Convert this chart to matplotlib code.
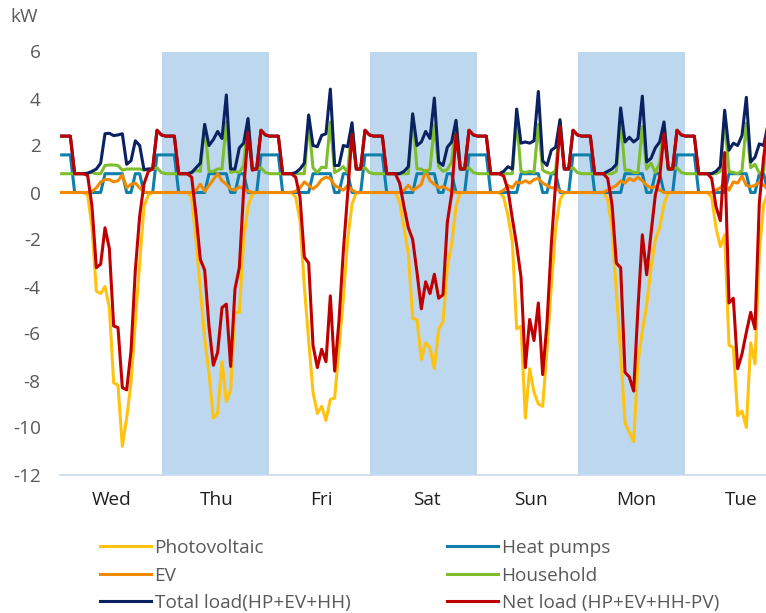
import matplotlib
matplotlib.use("Agg")
import matplotlib.pyplot as plt
from matplotlib.lines import Line2D
import numpy as np

plt.rcParams['font.family'] = ['Open Sans', 'DejaVu Sans']
plt.rcParams['axes.unicode_minus'] = False

days = ["Wed", "Thu", "Fri", "Sat", "Sun", "Mon", "Tue"]
shaded_days = ["Thu", "Sat", "Mon"]
yticks = [-12, -10, -8, -6, -4, -2, 0, 2, 4, 6]

# hourly values, kW (one row of 24 per day)
photovoltaic = [
    0, 0, 0, 0, 0, 0, -0.1, -1.5, -4.2, -4.3, -4.0, -4.9, -8.1, -8.2, -10.8, -9.6, -8.1, -5.5, -3.0, -0.6, -0.1, 0, 0, 0,
    0, 0, 0, 0, 0, 0, -0.2, -2.0, -4.1, -6.2, -7.7, -9.6, -9.4, -7.2, -8.9, -8.4, -5.1, -5.1, -2.0, -0.6, -0.05, 0, 0, 0,
    0, 0, 0, 0, 0, 0, -0.2, -1.2, -4.0, -6.3, -8.5, -9.4, -9.1, -9.7, -8.8, -8.75, -6.6, -4.5, -2.0, -0.5, 0, 0, 0, 0,
    0, 0, 0, 0, 0, 0, -0.4, -1.5, -2.6, -5.35, -5.4, -7.1, -6.4, -6.6, -7.5, -5.8, -5.5, -3.2, -2.2, -0.6, 0, 0, 0, 0,
    0, 0, 0, 0, 0, 0, -0.2, -1.0, -2.1, -5.8, -5.7, -9.6, -7.5, -8.5, -9.0, -9.1, -6.7, -4.0, -1.5, -0.3, 0, 0, 0, 0,
    0, 0, 0, 0, 0, 0, -0.3, -1.5, -4.2, -6.8, -9.8, -10.2, -10.6, -7.2, -5.9, -4.8, -3.2, -2.0, -1.5, -0.5, 0, 0, 0, 0,
    0, 0, 0, 0, 0, 0, -0.2, -1.5, -2.3, -1.8, -6.5, -6.6, -9.5, -9.3, -10.0, -6.4, -7.3, -2.5, -0.5, 0, 0, 0, 0, 0,
]

heat_pumps = [
    1.6, 1.6, 1.6, 0, 0, 0, 0, 0, 0, 0, 0.8, 0.8, 0.8, 0.8, 0.8, 0, 0, 0.8, 0.8, 0, 0, 0, 1.6, 1.6,
    1.6, 1.6, 1.6, 0, 0, 0, 0, 0, 0, 0, 0.8, 0.8, 0.8, 0.8, 0.8, 0, 0, 0.8, 0.8, 0, 0, 0, 1.6, 1.6,
    1.6, 1.6, 1.6, 0, 0, 0, 0, 0, 0, 0, 0.8, 0.8, 0.8, 0.8, 0.8, 0, 0, 0.8, 0.8, 0, 0, 0, 1.6, 1.6,
    1.6, 1.6, 1.6, 0, 0, 0, 0, 0, 0, 0, 0.8, 0.8, 0.8, 0.8, 0.8, 0, 0, 0.8, 0.8, 0, 0, 0, 1.6, 1.6,
    1.6, 1.6, 1.6, 0, 0, 0, 0, 0, 0, 0, 0.8, 0.8, 0.8, 0.8, 0.8, 0, 0, 0.8, 0.8, 0, 0, 0, 1.6, 1.6,
    1.6, 1.6, 1.6, 0, 0, 0, 0, 0, 0, 0, 0.8, 0.8, 0.8, 0.8, 0.8, 0, 0, 0.8, 0.8, 0, 0, 0, 1.6, 1.6,
    1.6, 1.6, 1.6, 0, 0, 0, 0, 0, 0, 0, 0.8, 0.8, 0.8, 0.8, 0.8, 0, 0, 0.8, 0.8, 0, 0, 0, 1.6, 1.6,
]

ev = [
    0, 0, 0, 0, 0, 0, 0, 0.05, 0.2, 0.45, 0.55, 0.55, 0.45, 0.5, 0.75, 0.2, 0.35, 0.4, 0.2, 0.02, 0, 0, 0, 0,
    0, 0, 0, 0, 0, 0, 0, 0.1, 0.35, 0.05, 0.3, 0.55, 0.8, 0.5, 0.35, 0.15, 0.1, 0.25, 0.15, 0.05, 0, 0, 0, 0,
    0, 0, 0, 0, 0, 0, 0.05, 0.2, 0.45, 0.3, 0.15, 0.3, 0.55, 0.65, 0.6, 0.3, 0.2, 0.1, 0.3, 0.1, 0, 0, 0, 0,
    0, 0, 0, 0, 0, 0, 0, 0.1, 0.3, 0.1, 0.2, 0.35, 0.95, 0.5, 0.35, 0.2, 0.25, 0.15, 0.05, 0, 0, 0, 0, 0,
    0, 0, 0, 0, 0, 0, 0.1, 0.3, 0.2, 0.45, 0.4, 0.5, 0.4, 0.55, 0.6, 0.4, 0.3, 0.2, 0.2, 0.05, 0, 0, 0, 0,
    0, 0, 0, 0, 0, 0, 0.1, 0.2, 0.3, 0.5, 0.4, 0.6, 0.5, 0.65, 0.5, 0.3, 0.2, 0.25, 0.1, 0, 0, 0, 0, 0,
    0, 0, 0, 0, 0, 0, 0, 0.1, 0.2, 0.4, 0.1, 0.45, 0.4, 0.7, 0.3, 0.25, 0.3, 0.45, 0.3, 0.15, 0, 0, 0, 0,
]

household = [
    0.8, 0.8, 0.8, 0.8, 0.8, 0.8, 0.82, 0.85, 0.8, 0.8, 1.15, 1.17, 1.17, 1.15, 0.95, 1.0, 1.0, 1.0, 1.0, 0.95, 1.0, 1.0, 1.05, 0.85,
    0.8, 0.8, 0.8, 0.8, 0.8, 0.8, 0.85, 0.95, 0.9, 2.85, 0.9, 0.9, 1.0, 1.0, 3.0, 0.85, 0.9, 0.85, 1.15, 3.1, 1.0, 1.0, 1.05, 0.85,
    0.8, 0.8, 0.8, 0.8, 0.8, 0.8, 0.8, 0.8, 0.8, 3.0, 1.05, 0.85, 1.08, 1.05, 3.0, 0.85, 0.95, 1.1, 0.85, 2.87, 1.0, 1.0, 1.05, 0.85,
    0.8, 0.8, 0.8, 0.8, 0.8, 0.8, 0.8, 0.8, 0.8, 3.25, 1.0, 1.0, 0.85, 1.0, 2.87, 1.1, 0.9, 0.98, 1.3, 3.07, 1.0, 1.0, 1.05, 0.85,
    0.8, 0.8, 0.8, 0.8, 0.8, 0.8, 0.8, 0.8, 0.8, 3.1, 0.9, 0.85, 0.9, 0.85, 2.9, 0.95, 0.85, 0.8, 0.93, 3.05, 1.0, 1.0, 1.05, 0.85,
    0.8, 0.8, 0.8, 0.8, 0.8, 0.8, 0.8, 0.8, 0.9, 3.1, 0.95, 0.95, 0.85, 0.85, 2.8, 1.0, 1.25, 0.85, 1.25, 3.0, 1.0, 1.0, 1.05, 0.85,
    0.8, 0.8, 0.8, 0.8, 0.8, 0.8, 0.8, 0.8, 0.9, 3.1, 0.9, 0.85, 0.8, 0.93, 2.95, 1.05, 1.2, 0.82, 0.9, 2.75, 1.0, 1.0, 1.05, 0.85,
]

pv = np.array(photovoltaic)
hp = np.array(heat_pumps)
evs = np.array(ev)
hh = np.array(household)
total_load = hp + evs + hh
net_load = total_load + pv

hours = np.arange(len(pv)) + 0.5

W, H = 766, 613
FS = 13.7
fig = plt.figure(figsize=(W / 100, H / 100), dpi=100)
ax_left, px_per_day = 59.5, 104
ax_w = 7 * px_per_day
ax_top, ax_bot = 51.5, 474.5
ax = fig.add_axes([ax_left / W, 1 - ax_bot / H, ax_w / W, (ax_bot - ax_top) / H])

for d in shaded_days:
    i = days.index(d)
    ax.axvspan(24 * i - 0.35, 24 * (i + 1) + 0.35, color="#BDD7EE", lw=0, zorder=0)

series = [
    ("Photovoltaic", pv, "#FFC20E"),
    ("Heat pumps", hp, "#0E7FAB"),
    ("EV", evs, "#F18A00"),
    ("Household", hh, "#7DBE2A"),
    ("Total load(HP+EV+HH)", total_load, "#0B2262"),
    ("Net load (HP+EV+HH-PV)", net_load, "#C00000"),
]
handles = {}
for k, (name, vals, col) in enumerate(series):
    ax.plot(hours, vals, color=col, lw=2.2, zorder=2 + k, solid_joinstyle="round")
    handles[name] = Line2D([], [], color=col, lw=2.2)

ax.set_xlim(0, 24 * len(days))
ax.set_ylim(-12, 6)
ax.set_yticks(yticks)
ax.set_yticklabels([str(v) for v in yticks])
# day labels sit slightly right of the day centres in the reference
label_px = [112 + 104.8 * i for i in range(len(days))]
ax.set_xticks([(p - ax_left) / px_per_day * 24 for p in label_px])
ax.set_xticklabels(days)
ax.tick_params(axis="y", length=0, pad=13.5, labelsize=FS, labelcolor="#595959")
ax.tick_params(axis="x", length=0, pad=12, labelsize=FS, labelcolor="#1F1F1F")
for s in ["top", "right", "left"]:
    ax.spines[s].set_visible(False)
ax.spines["bottom"].set_color("#C9D9EC")
ax.spines["bottom"].set_linewidth(1.2)
ax.spines["bottom"].set_zorder(1)

fig.text(10 / W, 1 - 17 / H, "kW", fontsize=FS, color="#595959", va="center", ha="left")

col1 = ["Photovoltaic", "EV", "Total load(HP+EV+HH)"]
col2 = ["Heat pumps", "Household", "Net load (HP+EV+HH-PV)"]
for names, x in [(col1, 100), (col2, 447)]:
    fig.legend([handles[n] for n in names], names, loc="upper left",
               bbox_to_anchor=(x / W, 1 - 539 / H), frameon=False, fontsize=FS,
               handlelength=2.67, handletextpad=0.2, labelspacing=0.5,
               borderpad=0, borderaxespad=0, labelcolor="#595959")

fig.savefig("out.png", dpi=100)
